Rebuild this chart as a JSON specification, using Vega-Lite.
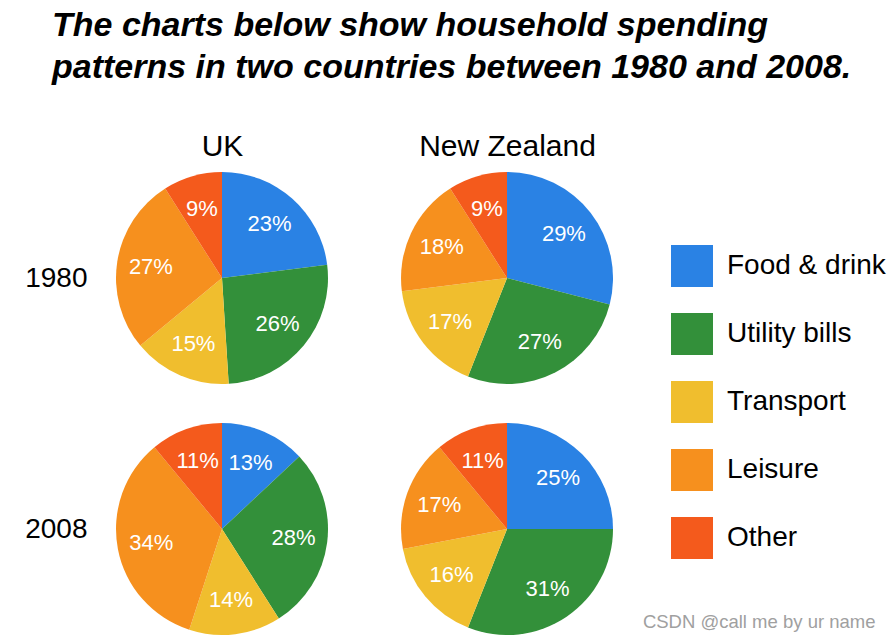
{
  "$schema": "https://vega.github.io/schema/vega-lite/v6.json",
  "width": 775,
  "height": 440,
  "autosize": {"type": "none"},
  "padding": {"left": 100, "top": 165, "right": 15, "bottom": 34},
  "background": "white",
  "config": {"view": {"stroke": null}, "font": "Liberation Sans"},
  "title": {
    "text": ["The charts below show household spending", "patterns in two countries between 1980 and 2008."],
    "anchor": "start",
    "frame": "group",
    "font": "Liberation Sans",
    "fontSize": 34,
    "fontWeight": "bold",
    "fontStyle": "italic",
    "color": "black",
    "lineHeight": 42,
    "offset": 46,
    "dx": -48
  },
  "data": {
    "values": [
      {"country": "UK", "year": "1980", "category": "Food & drink", "order": 1, "share": 0.23},
      {"country": "UK", "year": "1980", "category": "Utility bills", "order": 2, "share": 0.26},
      {"country": "UK", "year": "1980", "category": "Transport", "order": 3, "share": 0.15},
      {"country": "UK", "year": "1980", "category": "Leisure", "order": 4, "share": 0.27},
      {"country": "UK", "year": "1980", "category": "Other", "order": 5, "share": 0.09},
      {"country": "New Zealand", "year": "1980", "category": "Food & drink", "order": 1, "share": 0.29},
      {"country": "New Zealand", "year": "1980", "category": "Utility bills", "order": 2, "share": 0.27},
      {"country": "New Zealand", "year": "1980", "category": "Transport", "order": 3, "share": 0.17},
      {"country": "New Zealand", "year": "1980", "category": "Leisure", "order": 4, "share": 0.18},
      {"country": "New Zealand", "year": "1980", "category": "Other", "order": 5, "share": 0.09},
      {"country": "UK", "year": "2008", "category": "Food & drink", "order": 1, "share": 0.13},
      {"country": "UK", "year": "2008", "category": "Utility bills", "order": 2, "share": 0.28},
      {"country": "UK", "year": "2008", "category": "Transport", "order": 3, "share": 0.14},
      {"country": "UK", "year": "2008", "category": "Leisure", "order": 4, "share": 0.34},
      {"country": "UK", "year": "2008", "category": "Other", "order": 5, "share": 0.11},
      {"country": "New Zealand", "year": "2008", "category": "Food & drink", "order": 1, "share": 0.25},
      {"country": "New Zealand", "year": "2008", "category": "Utility bills", "order": 2, "share": 0.31},
      {"country": "New Zealand", "year": "2008", "category": "Transport", "order": 3, "share": 0.16},
      {"country": "New Zealand", "year": "2008", "category": "Leisure", "order": 4, "share": 0.17},
      {"country": "New Zealand", "year": "2008", "category": "Other", "order": 5, "share": 0.11}
    ]
  },
  "resolve": {"axis": {"x": "independent"}},
  "layer": [
    {
      "encoding": {
        "x": {
          "field": "country", "type": "nominal",
          "scale": {"type": "point", "domain": ["UK", "New Zealand"], "padding": 0.8596, "align": 0.249},
          "axis": {"orient": "top", "title": null, "labelFontSize": 30, "labelFont": "Liberation Sans", "labelColor": "black", "labelPadding": 4, "labelAngle": 0, "ticks": false, "tickSize": 0, "domain": false, "grid": false}
        },
        "y": {
          "field": "year", "type": "nominal",
          "scale": {"type": "point", "domain": ["1980", "2008"], "padding": 0.3765, "align": 0.598},
          "axis": {"orient": "left", "title": null, "labelFontSize": 28, "labelFont": "Liberation Sans", "labelColor": "black", "labelPadding": 13, "ticks": false, "tickSize": 0, "domain": false, "grid": false}
        },
        "theta": {"field": "share", "type": "quantitative", "stack": true, "scale": {"domain": [0, 1]}},
        "color": {
          "field": "category", "type": "nominal",
          "scale": {
            "domain": ["Food & drink", "Utility bills", "Transport", "Leisure", "Other"],
            "range": ["#2a82e4", "#33903a", "#f0be2e", "#f6901e", "#f45a1c"]
          },
          "legend": {
            "orient": "none", "legendX": 571, "legendY": 80, "title": null,
            "symbolType": "square", "symbolSize": 1764, "symbolStrokeWidth": 0, "symbolOpacity": 1,
            "labelFontSize": 28, "labelFont": "Liberation Sans", "labelColor": "black", "labelOffset": 14, "labelLimit": 400,
            "rowPadding": 26, "padding": 0
          }
        },
        "order": {"field": "order", "type": "quantitative"}
      },
      "layer": [
        {
          "transform": [{"filter": "datum.country === 'UK' && datum.year === '1980'"}],
          "layer": [
            {"mark": {"type": "arc", "outerRadius": 106}},
            {"mark": {"type": "text", "radius": 72, "fontSize": 22, "font": "Liberation Sans"}, "encoding": {"text": {"field": "share", "type": "quantitative", "format": ".0%"}, "color": {"value": "white"}, "detail": {"field": "category"}}}
          ]
        },
        {
          "transform": [{"filter": "datum.country === 'New Zealand' && datum.year === '1980'"}],
          "layer": [
            {"mark": {"type": "arc", "outerRadius": 106}},
            {"mark": {"type": "text", "radius": 72, "fontSize": 22, "font": "Liberation Sans"}, "encoding": {"text": {"field": "share", "type": "quantitative", "format": ".0%"}, "color": {"value": "white"}, "detail": {"field": "category"}}}
          ]
        },
        {
          "transform": [{"filter": "datum.country === 'UK' && datum.year === '2008'"}],
          "layer": [
            {"mark": {"type": "arc", "outerRadius": 106}},
            {"mark": {"type": "text", "radius": 72, "fontSize": 22, "font": "Liberation Sans"}, "encoding": {"text": {"field": "share", "type": "quantitative", "format": ".0%"}, "color": {"value": "white"}, "detail": {"field": "category"}}}
          ]
        },
        {
          "transform": [{"filter": "datum.country === 'New Zealand' && datum.year === '2008'"}],
          "layer": [
            {"mark": {"type": "arc", "outerRadius": 106}},
            {"mark": {"type": "text", "radius": 72, "fontSize": 22, "font": "Liberation Sans"}, "encoding": {"text": {"field": "share", "type": "quantitative", "format": ".0%"}, "color": {"value": "white"}, "detail": {"field": "category"}}}
          ]
        }
      ]
    },
    {
      "mark": {"type": "point", "opacity": 0},
      "encoding": {
        "x": {
          "field": "country", "type": "nominal",
          "axis": {"orient": "bottom", "labels": false, "ticks": false, "tickSize": 0, "domain": false, "grid": false,
            "title": "CSDN @call me by ur name", "titleAnchor": "end", "titleFontSize": 18.5, "titleFont": "Liberation Sans",
            "titleFontWeight": "normal", "titleColor": "#a0a0a0", "titlePadding": 7}
        }
      }
    }
  ]
}
